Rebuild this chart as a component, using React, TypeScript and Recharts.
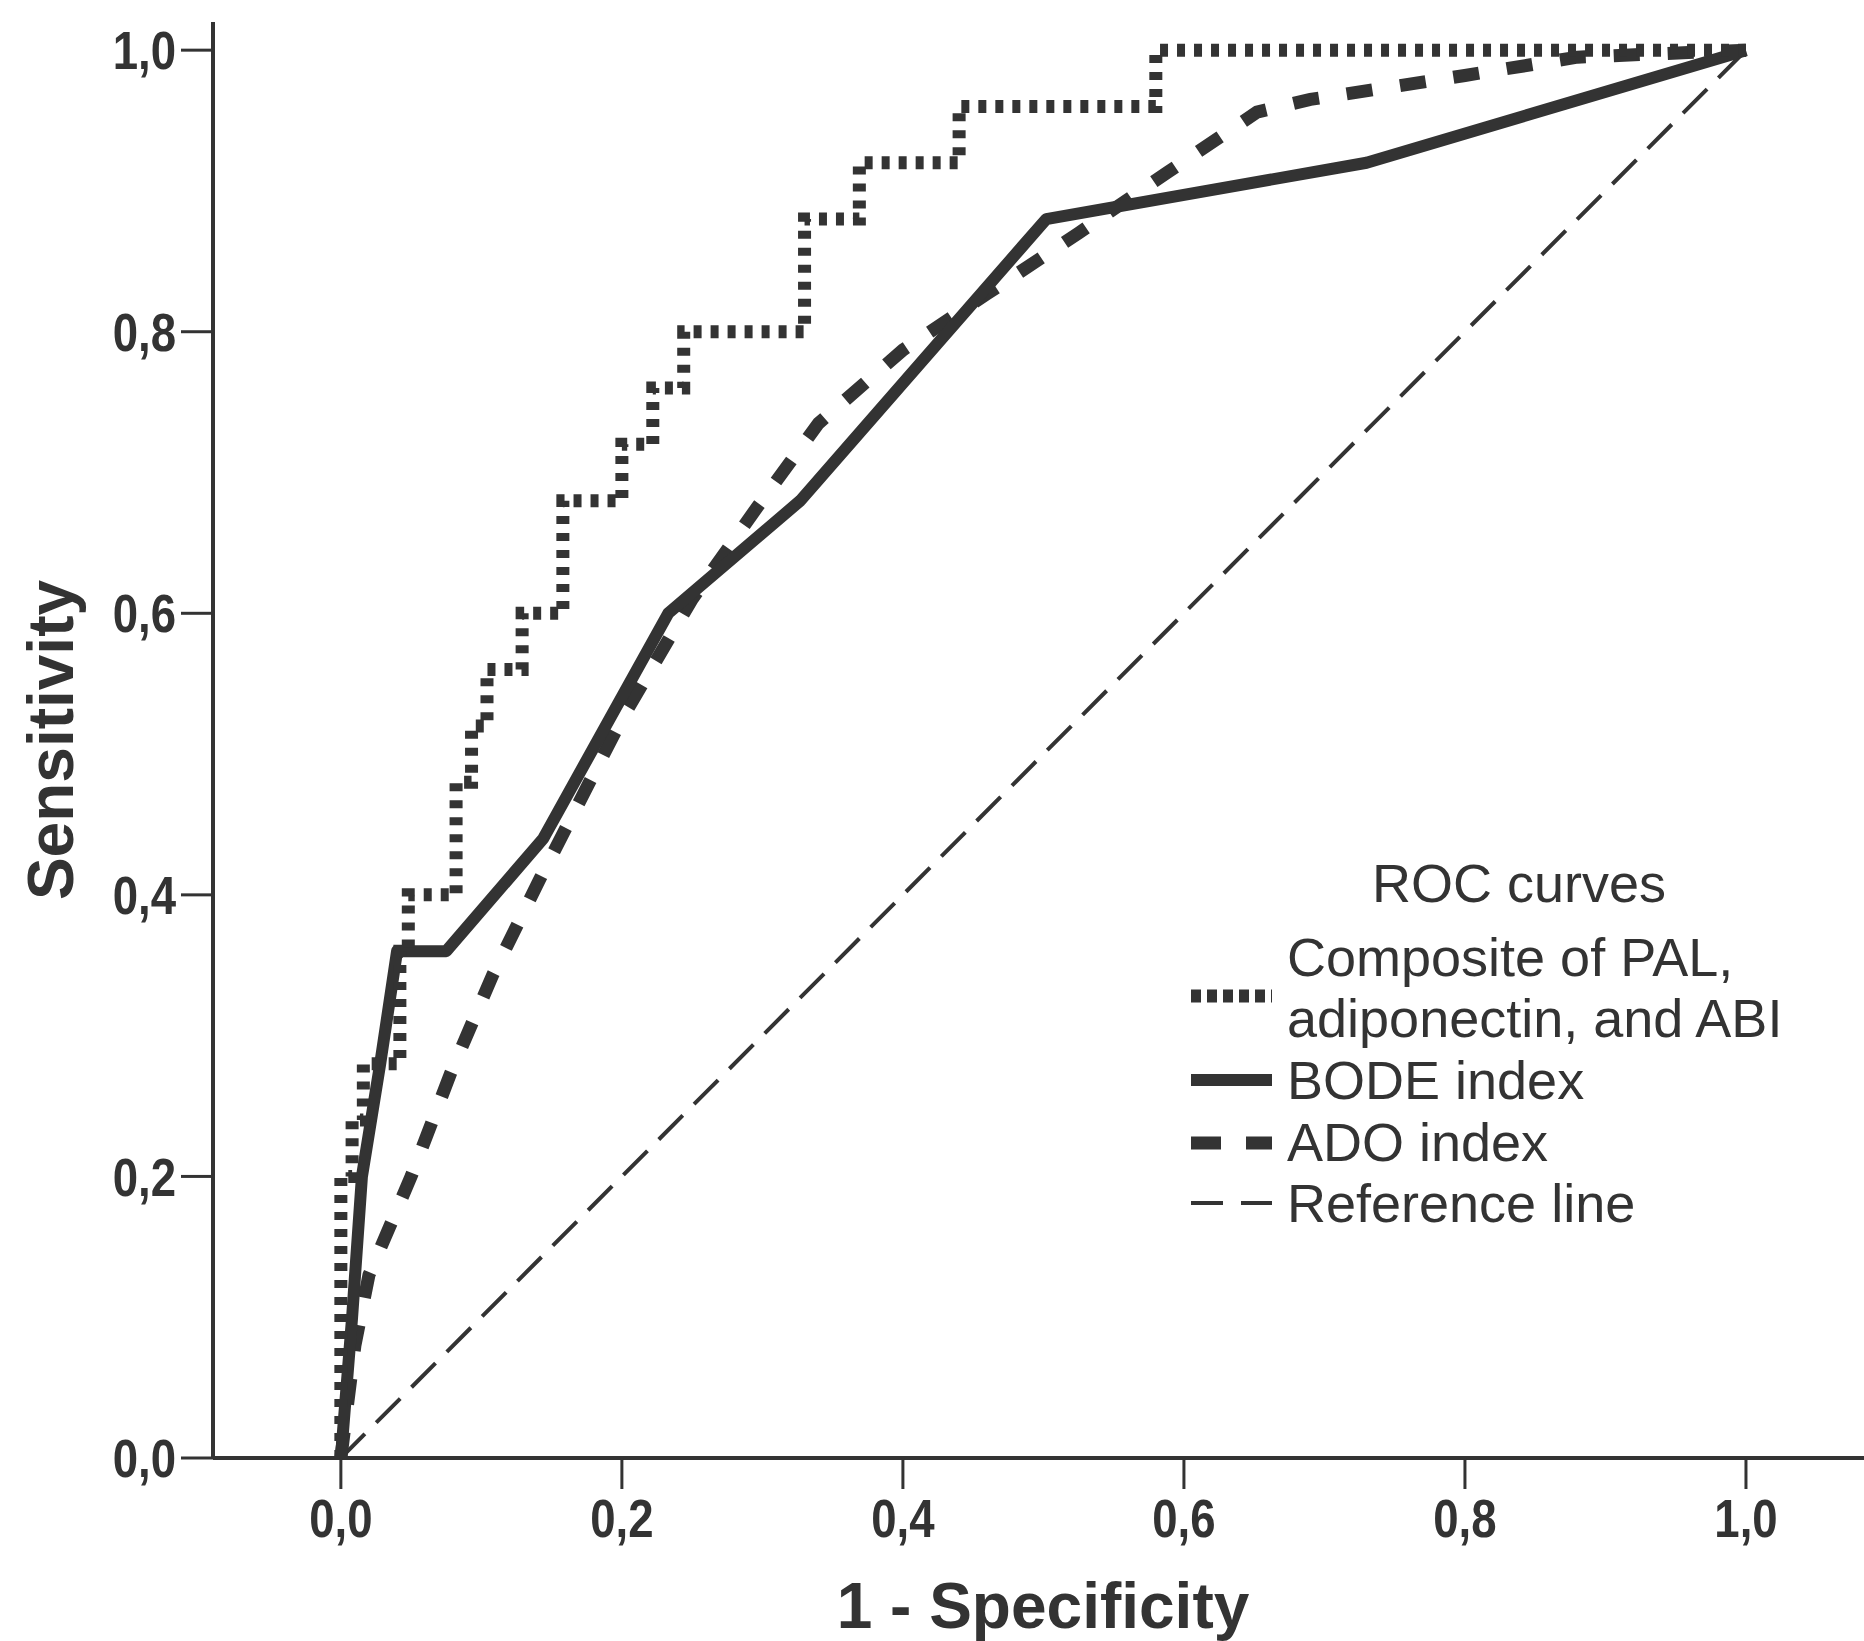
import { LineChart, Line, XAxis, YAxis, Legend, Label } from "recharts";

// ROC coordinates (1 - specificity, sensitivity) for each predictor
const COMPOSITE_FPR = [0, 0, 0.008, 0.008, 0.016, 0.016, 0.042, 0.042, 0.048, 0.048, 0.082, 0.082, 0.093, 0.093, 0.104, 0.104, 0.129, 0.129, 0.158, 0.158, 0.2, 0.2, 0.222, 0.222, 0.244, 0.244, 0.33, 0.33, 0.369, 0.369, 0.44, 0.44, 0.58, 0.58, 1];
const COMPOSITE_TPR = [0, 0.2, 0.2, 0.24, 0.24, 0.28, 0.28, 0.36, 0.36, 0.4, 0.4, 0.48, 0.48, 0.52, 0.52, 0.56, 0.56, 0.6, 0.6, 0.68, 0.68, 0.72, 0.72, 0.76, 0.76, 0.8, 0.8, 0.88, 0.88, 0.92, 0.92, 0.96, 0.96, 1, 1];

const BODE_FPR = [0, 0.008, 0.015, 0.028, 0.04, 0.075, 0.144, 0.233, 0.327, 0.502, 0.73, 1];
const BODE_TPR = [0, 0.1, 0.2, 0.28, 0.36, 0.36, 0.44, 0.6, 0.68, 0.88, 0.92, 1];

const ADO_FPR = [0, 0.01, 0.02, 0.05, 0.078, 0.108, 0.142, 0.2, 0.25, 0.296, 0.34, 0.4, 0.46, 0.525, 0.588, 0.652, 0.69, 0.8, 0.88, 1];
const ADO_TPR = [0, 0.08, 0.13, 0.2, 0.273, 0.343, 0.412, 0.525, 0.61, 0.675, 0.735, 0.787, 0.827, 0.87, 0.913, 0.956, 0.965, 0.982, 0.995, 1];

const REF_FPR = [0, 1];
const REF_TPR = [0, 1];

const TICKS = [0, 0.2, 0.4, 0.6, 0.8, 1];

const rows = (fpr: number[], tpr: number[]) => fpr.map((x, i) => ({ x, y: tpr[i] }));

const W = 1864;
const H = 1641;
const INK = "#333333";
const FONT = "'Liberation Sans', Arial, Helvetica, sans-serif";

const fmt = (v: number) => v.toFixed(1).replace(".", ",");

// tick labels are a tall, slightly condensed bold face
function TickText(props: any) {
  const { x, y, payload, textAnchor, axis } = props;
  const dy = axis === "x" ? "0.72em" : "0.36em";
  return (
    <text
      transform={`translate(${x},${y}) scale(0.86,1)`}
      textAnchor={textAnchor}
      dy={dy}
      fill={INK}
      fontSize={53}
      fontWeight={700}
      fontFamily={FONT}
    >
      {fmt(payload.value)}
    </text>
  );
}

function RocLegend() {
  const text = { fill: INK, fontSize: 54, fontFamily: FONT };
  return (
    <svg width={680} height={420} style={{ display: "block", overflow: "visible" }}>
      <text x={349} y={72} textAnchor="middle" {...text}>ROC curves</text>

      <line x1={21} x2={102} y1={166} y2={166} stroke={INK} strokeWidth={13} strokeDasharray="10 6" />
      <text x={117} y={146} {...text}>Composite of PAL,</text>
      <text x={117} y={207} {...text}>adiponectin, and ABI</text>

      <line x1={21} x2={102} y1={250} y2={250} stroke={INK} strokeWidth={12} />
      <text x={117} y={269} {...text}>BODE index</text>

      <line x1={21} x2={102} y1={313} y2={313} stroke={INK} strokeWidth={13} strokeDasharray="30 25" />
      <text x={117} y={331} {...text}>ADO index</text>

      <line x1={21} x2={102} y1={373} y2={373} stroke={INK} strokeWidth={4} strokeDasharray="32 18" />
      <text x={117} y={392} {...text}>Reference line</text>
    </svg>
  );
}

export default function App() {
  return (
    <div style={{ position: "absolute", left: 0, top: 0, width: W, height: H, background: "#fff" }}>
      <LineChart width={W} height={H} margin={{ top: 22, right: 0, bottom: 63, left: 63 }}>
        <XAxis
          type="number"
          dataKey="x"
          domain={[-0.091, 1.084]}
          ticks={TICKS}
          allowDataOverflow
          height={120}
          axisLine={{ stroke: INK, strokeWidth: 4 }}
          tickLine={{ stroke: INK, strokeWidth: 3 }}
          tickSize={31}
          tickMargin={10}
          tick={(p: any) => <TickText {...p} axis="x" />}
        >
          <Label
            content={() => (
              <text x={1043} y={1628} textAnchor="middle" fill={INK} fontSize={64} fontWeight={700} fontFamily={FONT}>
                1 - Specificity
              </text>
            )}
          />
        </XAxis>
        <YAxis
          type="number"
          domain={[0, 1.02]}
          ticks={TICKS}
          allowDataOverflow
          width={150}
          axisLine={{ stroke: INK, strokeWidth: 4 }}
          tickLine={{ stroke: INK, strokeWidth: 3 }}
          tickSize={32}
          tickMargin={5}
          tick={(p: any) => <TickText {...p} axis="y" />}
        >
          <Label
            content={() => (
              <text
                x={73}
                y={740}
                transform="rotate(-90, 73, 740)"
                textAnchor="middle"
                fill={INK}
                fontSize={64}
                fontWeight={700}
                fontFamily={FONT}
              >
                Sensitivity
              </text>
            )}
          />
        </YAxis>

        <Line
          data={rows(REF_FPR, REF_TPR)}
          dataKey="y"
          type="linear"
          stroke={INK}
          strokeWidth={4}
          strokeDasharray="34 16"
          dot={false}
          activeDot={false}
          isAnimationActive={false}
          name="Reference line"
        />
        <Line
          data={rows(ADO_FPR, ADO_TPR)}
          dataKey="y"
          type="linear"
          stroke={INK}
          strokeWidth={13}
          strokeDasharray="26 28"
          dot={false}
          activeDot={false}
          isAnimationActive={false}
          name="ADO index"
        />
        <Line
          data={rows(BODE_FPR, BODE_TPR)}
          dataKey="y"
          type="linear"
          stroke={INK}
          strokeWidth={12}
          strokeLinejoin="round"
          dot={false}
          activeDot={false}
          isAnimationActive={false}
          name="BODE index"
        />
        <Line
          data={rows(COMPOSITE_FPR, COMPOSITE_TPR)}
          dataKey="y"
          type="linear"
          stroke={INK}
          strokeWidth={13}
          strokeDasharray="8 9"
          dot={false}
          activeDot={false}
          isAnimationActive={false}
          name="Composite of PAL, adiponectin, and ABI"
        />

        <Legend
          layout="vertical"
          align="center"
          verticalAlign="middle"
          wrapperStyle={{ position: "absolute", left: 1170, top: 830, width: 680, height: 420 }}
          content={() => <RocLegend />}
        />
      </LineChart>
    </div>
  );
}
